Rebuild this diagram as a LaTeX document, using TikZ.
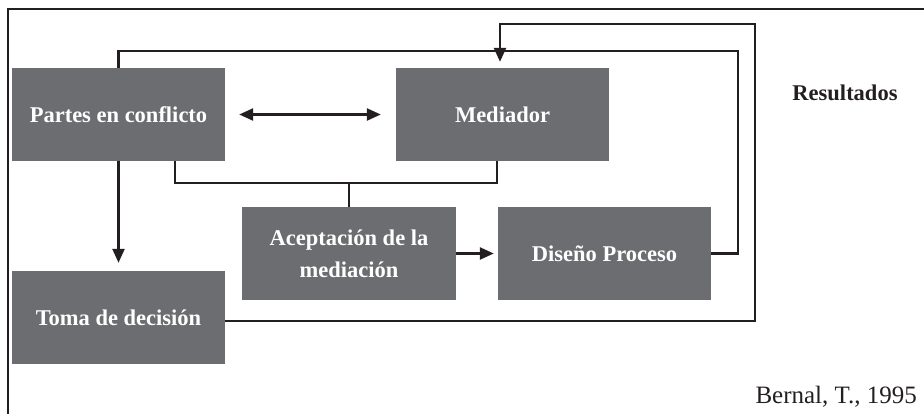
\documentclass[tikz,border=0pt]{standalone}
\usepackage{fontspec}
\setmainfont{Liberation Serif}
\usetikzlibrary{arrows.meta,calc}
\definecolor{boxgray}{HTML}{6C6D70}
\definecolor{ink}{HTML}{231F20}
\tikzset{
  blk/.style={fill=boxgray, draw=none, minimum width=213pt, minimum height=93pt,
    text=white, font=\fontsize{22.5}{32}\selectfont\bfseries, align=center, inner sep=0pt},
  conn/.style={draw=ink, line width=2.4pt},
  tip/.tip={Triangle[length=14pt,width=12pt]},
  lbl/.style={text=ink, inner sep=0pt}
}
\begin{document}
\begin{tikzpicture}[x=1pt,y=-1pt]
\useasboundingbox (0,0) rectangle (924,413);
\clip (0,0) rectangle (924,413);
% outer frame
\draw[conn] (8,430) |- (940,9);
% nodes
\node[blk] (partes) at (118.5,114.5) {Partes en conflicto};
\node[blk] (mediador) at (502.5,114.5) {Mediador};
\node[blk, minimum width=214pt] (acept) at (349,253.5) {Aceptación de la\\mediación};
\node[blk] (diseno) at (604.5,253.5) {Diseño Proceso};
\node[blk] (toma) at (118.5,317.5) {Toma de decisión};
\node[lbl, font=\fontsize{22.5}{27}\selectfont\bfseries] (res) at (845,93) {Resultados};
\node[lbl, font=\fontsize{25}{30}\selectfont, anchor=east] (src) at (917,397) {Bernal, T., 1995};
% coordinates
\coordinate (c1) at (738,51);
\coordinate (c2) at (755,24);
\coordinate (c3) at (349,183);
% connectors
\draw[conn] (partes.north) |- (c1) |- (diseno.east);
\draw[conn,-tip] ([yshift=-3.5pt]toma.east) -| (c2) -| ($(mediador.north)+(-2.5,-6)$);
\draw[conn] ([xshift=56.5pt]partes.south) |- (c3) -| ([xshift=-5.5pt]mediador.south);
\draw[conn] (c3) -- (acept.north);
\draw[conn,-tip] (partes.south) -- ([yshift=8pt]toma.north);
\draw[conn,tip-tip] ([xshift=14pt]partes.east) -- ([xshift=-15pt]mediador.west);
\draw[conn,-tip] (acept.east) -- ([xshift=-4pt]diseno.west);
\end{tikzpicture}
\end{document}
